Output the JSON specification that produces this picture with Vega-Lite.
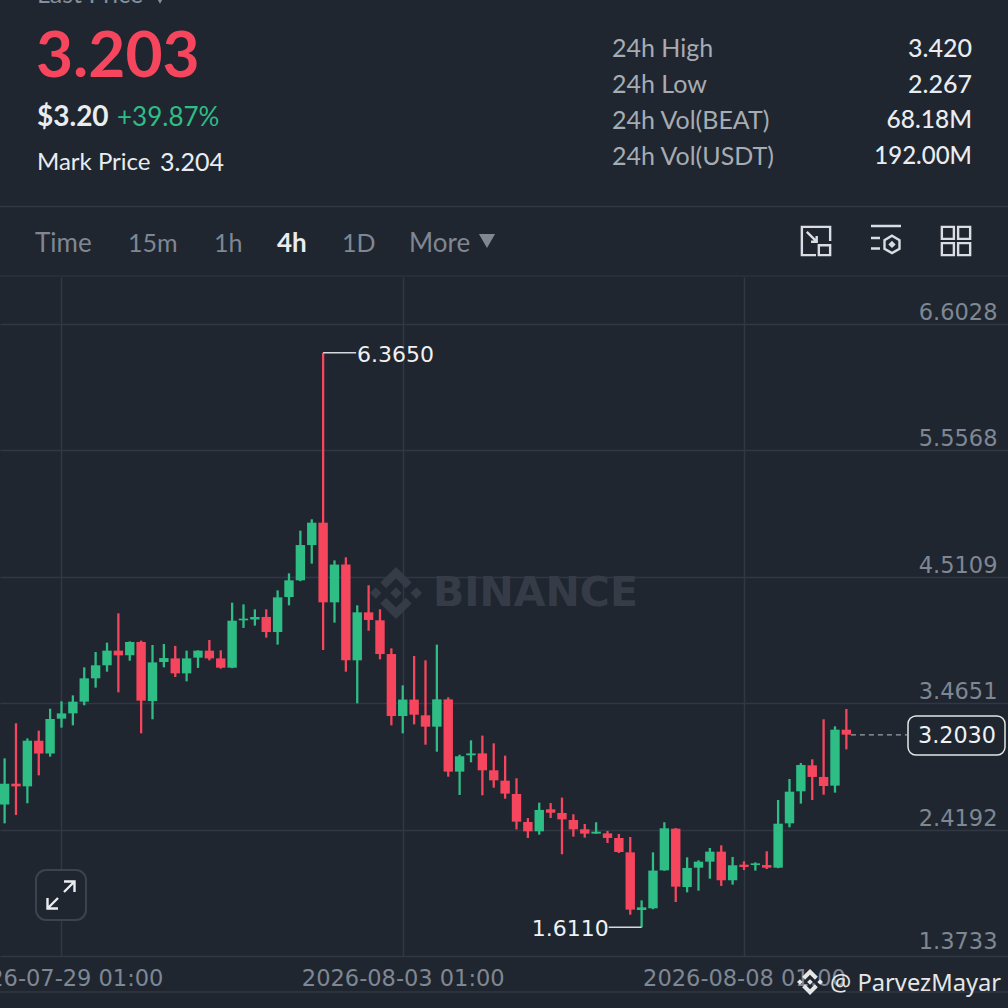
{
  "$schema": "https://vega.github.io/schema/vega-lite/v6.json",
  "width": 1008,
  "height": 679,
  "autosize": {"type": "none"},
  "padding": {"left": 0, "right": 0, "top": 277, "bottom": 52},
  "background": "#1f2630",
  "config": {
    "view": {"stroke": null},
    "text": {"font": "Lato", "baseline": "middle", "align": "left", "fontSize": 25}
  },
  "datasets": {
    "one": [{}],
    "candles": [
      {"t":"2026-07-28T05:00:00Z","o":2.626,"h":3.009,"l":2.471,"c":2.799},
      {"t":"2026-07-28T09:00:00Z","o":2.799,"h":3.299,"l":2.540,"c":2.777},
      {"t":"2026-07-28T13:00:00Z","o":2.777,"h":3.174,"l":2.637,"c":3.155},
      {"t":"2026-07-28T17:00:00Z","o":3.155,"h":3.238,"l":2.868,"c":3.050},
      {"t":"2026-07-28T21:00:00Z","o":3.050,"h":3.420,"l":3.023,"c":3.335},
      {"t":"2026-07-29T01:00:00Z","o":3.337,"h":3.481,"l":3.263,"c":3.381},
      {"t":"2026-07-29T05:00:00Z","o":3.381,"h":3.530,"l":3.282,"c":3.478},
      {"t":"2026-07-29T09:00:00Z","o":3.478,"h":3.762,"l":3.448,"c":3.671},
      {"t":"2026-07-29T13:00:00Z","o":3.671,"h":3.889,"l":3.594,"c":3.779},
      {"t":"2026-07-29T17:00:00Z","o":3.779,"h":3.966,"l":3.726,"c":3.900},
      {"t":"2026-07-29T21:00:00Z","o":3.900,"h":4.209,"l":3.555,"c":3.861},
      {"t":"2026-07-30T01:00:00Z","o":3.861,"h":3.977,"l":3.817,"c":3.972},
      {"t":"2026-07-30T05:00:00Z","o":3.972,"h":3.983,"l":3.216,"c":3.486},
      {"t":"2026-07-30T09:00:00Z","o":3.483,"h":3.947,"l":3.332,"c":3.803},
      {"t":"2026-07-30T13:00:00Z","o":3.806,"h":3.955,"l":3.762,"c":3.839},
      {"t":"2026-07-30T17:00:00Z","o":3.836,"h":3.939,"l":3.682,"c":3.712},
      {"t":"2026-07-30T21:00:00Z","o":3.712,"h":3.900,"l":3.646,"c":3.836},
      {"t":"2026-07-31T01:00:00Z","o":3.842,"h":3.903,"l":3.757,"c":3.900},
      {"t":"2026-07-31T05:00:00Z","o":3.900,"h":3.988,"l":3.820,"c":3.836},
      {"t":"2026-07-31T09:00:00Z","o":3.836,"h":3.903,"l":3.751,"c":3.759},
      {"t":"2026-07-31T13:00:00Z","o":3.759,"h":4.297,"l":3.755,"c":4.148},
      {"t":"2026-07-31T17:00:00Z","o":4.151,"h":4.283,"l":4.088,"c":4.165},
      {"t":"2026-07-31T21:00:00Z","o":4.157,"h":4.242,"l":4.107,"c":4.179},
      {"t":"2026-08-01T01:00:00Z","o":4.179,"h":4.242,"l":4.008,"c":4.054},
      {"t":"2026-08-01T05:00:00Z","o":4.054,"h":4.399,"l":3.950,"c":4.341},
      {"t":"2026-08-01T09:00:00Z","o":4.344,"h":4.540,"l":4.275,"c":4.482},
      {"t":"2026-08-01T13:00:00Z","o":4.482,"h":4.893,"l":4.475,"c":4.774},
      {"t":"2026-08-01T17:00:00Z","o":4.774,"h":4.987,"l":4.620,"c":4.959},
      {"t":"2026-08-01T21:00:00Z","o":4.959,"h":6.365,"l":3.905,"c":4.300},
      {"t":"2026-08-02T01:00:00Z","o":4.300,"h":4.647,"l":4.132,"c":4.612},
      {"t":"2026-08-02T05:00:00Z","o":4.612,"h":4.672,"l":3.726,"c":3.820},
      {"t":"2026-08-02T09:00:00Z","o":3.820,"h":4.275,"l":3.464,"c":4.217},
      {"t":"2026-08-02T13:00:00Z","o":4.217,"h":4.441,"l":4.065,"c":4.154},
      {"t":"2026-08-02T17:00:00Z","o":4.151,"h":4.242,"l":3.828,"c":3.872},
      {"t":"2026-08-02T21:00:00Z","o":3.872,"h":3.919,"l":3.282,"c":3.359},
      {"t":"2026-08-03T01:00:00Z","o":3.359,"h":3.613,"l":3.216,"c":3.495},
      {"t":"2026-08-03T05:00:00Z","o":3.495,"h":3.856,"l":3.290,"c":3.370},
      {"t":"2026-08-03T09:00:00Z","o":3.365,"h":3.820,"l":3.122,"c":3.271},
      {"t":"2026-08-03T13:00:00Z","o":3.271,"h":3.950,"l":3.064,"c":3.497},
      {"t":"2026-08-03T17:00:00Z","o":3.497,"h":3.514,"l":2.857,"c":2.899},
      {"t":"2026-08-03T21:00:00Z","o":2.899,"h":3.039,"l":2.706,"c":3.026},
      {"t":"2026-08-04T01:00:00Z","o":3.034,"h":3.158,"l":2.976,"c":3.050},
      {"t":"2026-08-04T05:00:00Z","o":3.050,"h":3.197,"l":2.703,"c":2.910},
      {"t":"2026-08-04T09:00:00Z","o":2.910,"h":3.133,"l":2.766,"c":2.827},
      {"t":"2026-08-04T13:00:00Z","o":2.824,"h":3.031,"l":2.675,"c":2.717},
      {"t":"2026-08-04T17:00:00Z","o":2.714,"h":2.844,"l":2.421,"c":2.485},
      {"t":"2026-08-04T21:00:00Z","o":2.482,"h":2.515,"l":2.350,"c":2.405},
      {"t":"2026-08-05T01:00:00Z","o":2.405,"h":2.642,"l":2.377,"c":2.582},
      {"t":"2026-08-05T05:00:00Z","o":2.587,"h":2.639,"l":2.515,"c":2.559},
      {"t":"2026-08-05T09:00:00Z","o":2.557,"h":2.684,"l":2.215,"c":2.504},
      {"t":"2026-08-05T13:00:00Z","o":2.499,"h":2.546,"l":2.361,"c":2.422},
      {"t":"2026-08-05T17:00:00Z","o":2.422,"h":2.466,"l":2.353,"c":2.386},
      {"t":"2026-08-05T21:00:00Z","o":2.386,"h":2.480,"l":2.384,"c":2.402},
      {"t":"2026-08-06T01:00:00Z","o":2.388,"h":2.408,"l":2.308,"c":2.350},
      {"t":"2026-08-06T05:00:00Z","o":2.350,"h":2.383,"l":2.226,"c":2.234},
      {"t":"2026-08-06T09:00:00Z","o":2.231,"h":2.358,"l":1.715,"c":1.757},
      {"t":"2026-08-06T13:00:00Z","o":1.754,"h":1.834,"l":1.611,"c":1.776},
      {"t":"2026-08-06T17:00:00Z","o":1.768,"h":2.231,"l":1.760,"c":2.080},
      {"t":"2026-08-06T21:00:00Z","o":2.082,"h":2.480,"l":2.078,"c":2.430},
      {"t":"2026-08-07T01:00:00Z","o":2.427,"h":2.432,"l":1.820,"c":1.947},
      {"t":"2026-08-07T05:00:00Z","o":1.944,"h":2.190,"l":1.900,"c":2.102},
      {"t":"2026-08-07T09:00:00Z","o":2.104,"h":2.165,"l":1.914,"c":2.154},
      {"t":"2026-08-07T13:00:00Z","o":2.154,"h":2.267,"l":2.013,"c":2.237},
      {"t":"2026-08-07T17:00:00Z","o":2.237,"h":2.289,"l":1.953,"c":2.000},
      {"t":"2026-08-07T21:00:00Z","o":2.000,"h":2.193,"l":1.964,"c":2.124},
      {"t":"2026-08-08T01:00:00Z","o":2.129,"h":2.157,"l":2.085,"c":2.110},
      {"t":"2026-08-08T05:00:00Z","o":2.126,"h":2.148,"l":2.080,"c":2.140},
      {"t":"2026-08-08T09:00:00Z","o":2.126,"h":2.240,"l":2.093,"c":2.104},
      {"t":"2026-08-08T13:00:00Z","o":2.104,"h":2.664,"l":2.100,"c":2.468},
      {"t":"2026-08-08T17:00:00Z","o":2.471,"h":2.838,"l":2.438,"c":2.733},
      {"t":"2026-08-08T21:00:00Z","o":2.736,"h":2.970,"l":2.634,"c":2.954},
      {"t":"2026-08-09T01:00:00Z","o":2.951,"h":3.001,"l":2.664,"c":2.855},
      {"t":"2026-08-09T05:00:00Z","o":2.855,"h":3.332,"l":2.708,"c":2.780},
      {"t":"2026-08-09T09:00:00Z","o":2.783,"h":3.274,"l":2.725,"c":3.246},
      {"t":"2026-08-09T13:00:00Z","o":3.246,"h":3.417,"l":3.083,"c":3.205}
    ],
    "extremes": [
      {"t":"2026-08-01T21:00:00Z","t2":"2026-08-02T08:36:00Z","tl":"2026-08-02T08:54:00Z","p":6.365,"label":"6.3650"},
      {"t":"2026-08-06T13:00:00Z","t2":"2026-08-06T01:24:00Z","tl":"2026-08-04T22:24:00Z","p":1.611,"label":"1.6110"}
    ],
    "last": [
      {"t":"2026-08-09T14:36:00Z","t2":"2026-08-10T10:18:00Z","tl":"2026-08-11T03:54:00Z","p":3.203,"label":"3.2030"}
    ]
  },
  "layer": [
    {
      "data": {"name": "one"},
      "mark": {"type": "point", "shape": "M0 -0.22L0.22 0L0 0.22L-0.22 0ZM-0.78 -0.22L-0.56 0L-0.78 0.22L-1 0ZM0.78 -0.22L1 0L0.78 0.22L0.56 0ZM0 -1L0.6 -0.4L0.38 -0.18L0 -0.56L-0.38 -0.18L-0.6 -0.4ZM0 1L0.6 0.4L0.38 0.18L0 0.56L-0.38 0.18L-0.6 0.4Z", "filled": true, "opacity": 1, "fill": "#363c47", "size": 2704, "x": 396, "y": 316}
    },
    {
      "data": {"name": "one"},
      "mark": {"type": "text", "text": "BINANCE", "x": 433, "y": 317, "font": "DejaVu Sans", "fontWeight": "bold", "fontSize": 41, "color": "#363c47"}
    },
    {
      "data": {"name": "candles"},
      "mark": {"type": "rule", "strokeWidth": 2.3},
      "encoding": {
        "x": {
          "field": "t",
          "type": "temporal",
          "title": null,
          "scale": {"type": "utc", "domain": [1785208946400, 1786485024000], "padding": 0},
          "axis": {
            "values": [1785286800000, 1785718800000, 1786150800000],
            "format": "%Y-%m-%d %H:%M",
            "grid": true,
            "gridColor": "#323843",
            "gridWidth": 1.5,
            "ticks": false,
            "domain": false,
            "labelFont": "DejaVu Sans",
            "labelFontSize": 22.5,
            "labelColor": "#7f8793",
            "labelPadding": 11,
            "labelLimit": 400,
            "labelBound": false,
            "labelFlush": false,
            "labelOverlap": false
          }
        },
        "y": {
          "field": "l",
          "type": "quantitative",
          "title": null,
          "scale": {"domain": [1.3733, 6.992], "nice": false, "zero": false},
          "axis": {
            "orient": "right",
            "values": [1.3733, 2.4192, 3.4651, 4.5109, 5.5568, 6.6028],
            "format": ".4f",
            "grid": true,
            "gridColor": "#323843",
            "gridWidth": 1.5,
            "ticks": false,
            "domain": false,
            "labelFont": "DejaVu Sans",
            "labelFontSize": 22.5,
            "labelColor": "#7f8793",
            "labelAlign": "right",
            "labelPadding": -11,
            "labelOffset": {"condition": {"test": "datum.value < 1.4", "value": -14.5}, "value": -11.5},
            "labelBound": false,
            "labelFlush": false,
            "labelOverlap": false
          }
        },
        "y2": {"field": "h"},
        "color": {"condition": {"test": "datum.c >= datum.o", "value": "#2ebd85"}, "value": "#f6465d"}
      }
    },
    {
      "data": {"name": "candles"},
      "mark": {"type": "bar", "width": 9.4},
      "encoding": {
        "x": {"field": "t", "type": "temporal"},
        "y": {"field": "o", "type": "quantitative"},
        "y2": {"field": "c"},
        "color": {"condition": {"test": "datum.c >= datum.o", "value": "#2ebd85"}, "value": "#f6465d"}
      }
    },
    {
      "data": {"name": "extremes"},
      "mark": {"type": "rule", "color": "#d5d8dc", "strokeWidth": 1.4},
      "encoding": {
        "x": {"field": "t", "type": "temporal"},
        "x2": {"field": "t2"},
        "y": {"field": "p", "type": "quantitative"}
      }
    },
    {
      "data": {"name": "extremes"},
      "mark": {"type": "text", "font": "DejaVu Sans", "fontSize": 22, "color": "#f0f1f3", "dy": 2},
      "encoding": {
        "x": {"field": "tl", "type": "temporal"},
        "y": {"field": "p", "type": "quantitative"},
        "text": {"field": "label"}
      }
    },
    {
      "data": {"name": "last"},
      "mark": {"type": "rule", "color": "#9ba1a9", "strokeWidth": 1.4, "strokeDash": [5, 4]},
      "encoding": {
        "x": {"field": "t", "type": "temporal"},
        "x2": {"field": "t2"},
        "y": {"field": "p", "type": "quantitative"}
      }
    },
    {
      "data": {"name": "one"},
      "mark": {"type": "rect", "x": 908, "x2": 1005, "y": 439, "y2": 478, "cornerRadius": 8, "fill": "#1f2630", "stroke": "#e3e5e8", "strokeWidth": 1.5}
    },
    {
      "data": {"name": "last"},
      "mark": {"type": "text", "font": "DejaVu Sans", "fontSize": 22.3, "align": "center", "color": "#f0f1f3", "dy": 1.5},
      "encoding": {
        "x": {"field": "tl", "type": "temporal"},
        "y": {"field": "p", "type": "quantitative"},
        "text": {"field": "label"}
      }
    },
    {
      "data": {"name": "one"},
      "mark": {"type": "rect", "x": 36, "x2": 86, "y": 593, "y2": 643, "cornerRadius": 10, "fill": "#1f2630", "stroke": "#3d434d", "strokeWidth": 2}
    },
    {
      "data": {"name": "one"},
      "mark": {"type": "point", "shape": "M-0.9 0.9L-0.2 0.2M0.2 -0.2L0.9 -0.9M0.2 -0.9H0.9V-0.2M-0.9 0.2V0.9H-0.2", "filled": false, "opacity": 1, "stroke": "#eaecef", "strokeWidth": 2.4, "size": 900, "x": 61, "y": 618}
    },
    {"data": {"name": "one"}, "mark": {"type": "text", "text": "Last Price", "x": 37, "y": -282, "fontSize": 25, "color": "#848e9c"}},
    {"data": {"name": "one"}, "mark": {"type": "point", "shape": "triangle-down", "filled": true, "opacity": 1, "fill": "#848e9c", "size": 40, "x": 160, "y": -276}},
    {"data": {"name": "one"}, "mark": {"type": "text", "text": "3.203", "x": 36, "y": -221, "fontSize": 64, "fontWeight": "bold", "color": "#f6465d", "dy": 2}},
    {"data": {"name": "one"}, "mark": {"type": "text", "text": "$3.20", "x": 37, "y": -159, "fontSize": 28, "fontWeight": "bold", "color": "#eaecef"}},
    {"data": {"name": "one"}, "mark": {"type": "text", "text": "+39.87%", "x": 117, "y": -159, "fontSize": 26, "color": "#2ebd85"}},
    {"data": {"name": "one"}, "mark": {"type": "text", "text": "Mark Price", "x": 37, "y": -114, "fontSize": 24, "color": "#eaecef"}},
    {"data": {"name": "one"}, "mark": {"type": "text", "text": "3.204", "x": 160, "y": -114, "color": "#eaecef"}},
    {"data": {"name": "one"}, "mark": {"type": "text", "text": "24h High", "x": 612, "y": -228, "color": "#a8abb2"}},
    {"data": {"name": "one"}, "mark": {"type": "text", "text": "24h Low", "x": 612, "y": -192, "color": "#a8abb2"}},
    {"data": {"name": "one"}, "mark": {"type": "text", "text": "24h Vol(BEAT)", "x": 612, "y": -156, "color": "#a8abb2"}},
    {"data": {"name": "one"}, "mark": {"type": "text", "text": "24h Vol(USDT)", "x": 612, "y": -120, "color": "#a8abb2"}},
    {"data": {"name": "one"}, "mark": {"type": "text", "text": "3.420", "x": 972, "y": -228, "align": "right", "fontWeight": 500, "color": "#eaecef"}},
    {"data": {"name": "one"}, "mark": {"type": "text", "text": "2.267", "x": 972, "y": -192, "align": "right", "fontWeight": 500, "color": "#eaecef"}},
    {"data": {"name": "one"}, "mark": {"type": "text", "text": "68.18M", "x": 972, "y": -156, "align": "right", "fontWeight": 500, "fontSize": 24.5, "color": "#eaecef"}},
    {"data": {"name": "one"}, "mark": {"type": "text", "text": "192.00M", "x": 972, "y": -120, "align": "right", "fontWeight": 500, "fontSize": 24, "color": "#eaecef"}},
    {"data": {"name": "one"}, "mark": {"type": "rule", "color": "#323843", "strokeWidth": 1.5}, "encoding": {"x": {"value": 0}, "x2": {"value": 1008}, "y": {"value": -70.5}}},
    {"data": {"name": "one"}, "mark": {"type": "rule", "color": "#2c323c", "strokeWidth": 1.5}, "encoding": {"x": {"value": 0}, "x2": {"value": 1008}, "y": {"value": -1}}},
    {"data": {"name": "one"}, "mark": {"type": "rule", "color": "#323843", "strokeWidth": 1.5}, "encoding": {"x": {"value": 0}, "x2": {"value": 1008}, "y": {"value": 715}}},
    {"data": {"name": "one"}, "mark": {"type": "text", "text": "Time", "x": 35, "y": -33, "fontSize": 26, "color": "#7f8793"}},
    {"data": {"name": "one"}, "mark": {"type": "text", "text": "15m", "x": 128, "y": -33, "fontSize": 25, "color": "#7f8793"}},
    {"data": {"name": "one"}, "mark": {"type": "text", "text": "1h", "x": 214, "y": -33, "fontSize": 25, "color": "#7f8793"}},
    {"data": {"name": "one"}, "mark": {"type": "text", "text": "4h", "x": 277, "y": -33, "fontSize": 26, "fontWeight": "bold", "color": "#eaecef"}},
    {"data": {"name": "one"}, "mark": {"type": "text", "text": "1D", "x": 342, "y": -33, "fontSize": 25, "color": "#7f8793"}},
    {"data": {"name": "one"}, "mark": {"type": "text", "text": "More", "x": 409, "y": -33, "fontSize": 26, "color": "#7f8793"}},
    {"data": {"name": "one"}, "mark": {"type": "point", "shape": "triangle-down", "filled": true, "opacity": 1, "fill": "#7f8793", "size": 260, "x": 487, "y": -36}},
    {"data": {"name": "one"}, "mark": {"type": "point", "shape": "M1 0V-1H-1V1H0M0.2 0.3H1V1H0.2ZM-0.65 -0.65L0.05 0.05M0.05 -0.35V0.05H-0.35", "filled": false, "opacity": 1, "stroke": "#dadde2", "strokeWidth": 2.4, "size": 800, "x": 816, "y": -36}},
    {"data": {"name": "one"}, "mark": {"type": "point", "shape": "M-1 -1H1M-1 -0.2H-0.4M-1 0.5H-0.4M0.4 -0.35L0.9 -0.06V0.52L0.4 0.81L-0.1 0.52V-0.06ZM0.4 0.1L0.53 0.23L0.4 0.36L0.27 0.23Z", "filled": false, "opacity": 1, "stroke": "#dadde2", "strokeWidth": 2.4, "size": 900, "x": 886, "y": -36}},
    {"data": {"name": "one"}, "mark": {"type": "point", "shape": "M-1 -1H-0.15V-0.15H-1ZM0.15 -1H1V-0.15H0.15ZM-1 0.15H-0.15V1H-1ZM0.15 0.15H1V1H0.15Z", "filled": false, "opacity": 1, "stroke": "#dadde2", "strokeWidth": 2.4, "size": 800, "x": 956, "y": -36}},
    {"data": {"name": "one"}, "mark": {"type": "point", "shape": "M0 -0.22L0.22 0L0 0.22L-0.22 0ZM-0.78 -0.22L-0.56 0L-0.78 0.22L-1 0ZM0.78 -0.22L1 0L0.78 0.22L0.56 0ZM0 -1L0.6 -0.4L0.38 -0.18L0 -0.56L-0.38 -0.18L-0.6 -0.4ZM0 1L0.6 0.4L0.38 0.18L0 0.56L-0.38 0.18L-0.6 0.4Z", "filled": true, "opacity": 1, "fill": "#e6e6e6", "size": 676, "x": 810, "y": 705}},
    {"data": {"name": "one"}, "mark": {"type": "text", "text": "@ ParvezMayar", "x": 830, "y": 707, "font": "Noto Sans", "fontSize": 23.7, "color": "#e6e6e6"}}
  ]
}
